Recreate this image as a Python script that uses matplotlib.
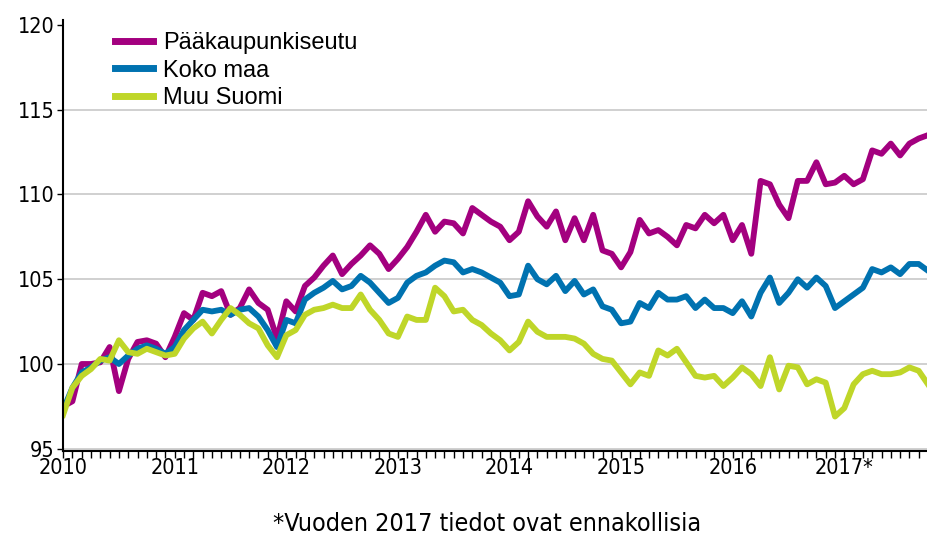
import matplotlib
matplotlib.use("Agg")
import matplotlib.pyplot as plt
import numpy as np

# monthly index values, 2010-01 ... 2017-10
paakaupunkiseutu = [
    97.5, 97.8, 100.0, 100.0, 100.1, 101.0, 98.4, 100.3, 101.3, 101.4, 101.2, 100.4,
    101.6, 103.0, 102.6, 104.2, 104.0, 104.3, 102.9, 103.3, 104.4, 103.6, 103.2, 101.5,
    103.7, 103.1, 104.6, 105.1, 105.8, 106.4, 105.3, 105.9, 106.4, 107.0, 106.5, 105.6,
    106.2, 106.9, 107.8, 108.8, 107.8, 108.4, 108.3, 107.7, 109.2, 108.8, 108.4, 108.1,
    107.3, 107.8, 109.6, 108.7, 108.1, 109.0, 107.3, 108.6, 107.3, 108.8, 106.7, 106.5,
    105.7, 106.6, 108.5, 107.7, 107.9, 107.5, 107.0, 108.2, 108.0, 108.8, 108.3, 108.8,
    107.3, 108.2, 106.5, 110.8, 110.6, 109.4, 108.6, 110.8, 110.8, 111.9, 110.6, 110.7,
    111.1, 110.6, 110.9, 112.6, 112.4, 113.0, 112.3, 113.0, 113.3, 113.5,
]
koko_maa = [
    97.3, 98.6, 99.5, 99.8, 100.2, 100.4, 100.0, 100.5, 100.9, 101.1, 100.9, 100.6,
    101.0, 102.0, 102.6, 103.2, 103.1, 103.2, 102.9, 103.2, 103.3, 102.8, 102.0, 101.0,
    102.6, 102.4, 103.8, 104.2, 104.5, 104.9, 104.4, 104.6, 105.2, 104.8, 104.2, 103.6,
    103.9, 104.8, 105.2, 105.4, 105.8, 106.1, 106.0, 105.4, 105.6, 105.4, 105.1, 104.8,
    104.0, 104.1, 105.8, 105.0, 104.7, 105.2, 104.3, 104.9, 104.1, 104.4, 103.4, 103.2,
    102.4, 102.5, 103.6, 103.3, 104.2, 103.8, 103.8, 104.0, 103.3, 103.8, 103.3, 103.3,
    103.0, 103.7, 102.8, 104.2, 105.1, 103.6, 104.2, 105.0, 104.5, 105.1, 104.6, 103.3,
    103.7, 104.1, 104.5, 105.6, 105.4, 105.7, 105.3, 105.9, 105.9, 105.5,
]
muu_suomi = [
    97.0, 98.6, 99.3, 99.7, 100.3, 100.2, 101.4, 100.7, 100.6, 100.9, 100.7, 100.5,
    100.6, 101.5, 102.1, 102.5, 101.8, 102.6, 103.3, 102.9, 102.4, 102.1, 101.1, 100.4,
    101.7, 102.0, 102.9, 103.2, 103.3, 103.5, 103.3, 103.3, 104.1, 103.2, 102.6, 101.8,
    101.6, 102.8, 102.6, 102.6, 104.5, 104.0, 103.1, 103.2, 102.6, 102.3, 101.8, 101.4,
    100.8, 101.3, 102.5, 101.9, 101.6, 101.6, 101.6, 101.5, 101.2, 100.6, 100.3, 100.2,
    99.5, 98.8, 99.5, 99.3, 100.8, 100.5, 100.9, 100.1, 99.3, 99.2, 99.3, 98.7,
    99.2, 99.8, 99.4, 98.7, 100.4, 98.5, 99.9, 99.8, 98.8, 99.1, 98.9, 96.9,
    97.4, 98.8, 99.4, 99.6, 99.4, 99.4, 99.5, 99.8, 99.6, 98.8,
]
year_labels = ["2010", "2011", "2012", "2013", "2014", "2015", "2016", "2017*"]
series_names = ["Pääkaupunkiseutu", "Koko maa", "Muu Suomi"]
colors = ["#a3007f", "#0072b0", "#bfd629"]

tick_font = {"family": "DejaVu Sans", "stretch": "condensed", "size": 15.5}

fig = plt.figure(figsize=(9.28, 5.36), dpi=100)
ax = fig.add_axes([0.068, 0.158, 0.932, 0.805])

months = np.arange(len(koko_maa))
for vals, name, c in zip([paakaupunkiseutu, koko_maa, muu_suomi], series_names, colors):
    ax.plot(months, vals, color=c, lw=4.2, label=name, solid_joinstyle="round")

ax.set_xlim(0, len(koko_maa) - 1)
ax.set_ylim(94.85, 120.3)
ax.set_yticks([95, 100, 105, 110, 115, 120])
ax.set_yticklabels(["95", "100", "105", "110", "115", "120"], fontdict=tick_font)
ax.set_xticks(np.arange(0, len(koko_maa), 12))
ax.set_xticklabels(year_labels, fontdict=tick_font)
ax.set_xticks(months, minor=True)
ax.tick_params(axis="x", which="major", length=5, width=1, pad=0)
ax.tick_params(axis="x", which="minor", length=5, width=1)
ax.tick_params(axis="y", length=4, width=1, pad=2)

for v in [95, 100, 105, 110, 115]:
    ax.axhline(v, color="#c8c8c8", lw=1.2, zorder=0)

for s in ["top", "right"]:
    ax.spines[s].set_visible(False)
ax.spines["left"].set_linewidth(1.5)
ax.spines["bottom"].set_linewidth(1.5)

leg = ax.legend(loc="upper left", bbox_to_anchor=(0.036, 1.02), frameon=False,
                handlelength=1.6, handletextpad=0.42, labelspacing=0.22,
                prop={"family": "Liberation Sans", "size": 17})
for line in leg.get_lines():
    line.set_linewidth(5)

fig.text(0.525, 0.0, "*Vuoden 2017 tiedot ovat ennakollisia", ha="center",
         va="bottom", family="DejaVu Sans", stretch="condensed", fontsize=18)

fig.savefig("out.png", dpi=100)
